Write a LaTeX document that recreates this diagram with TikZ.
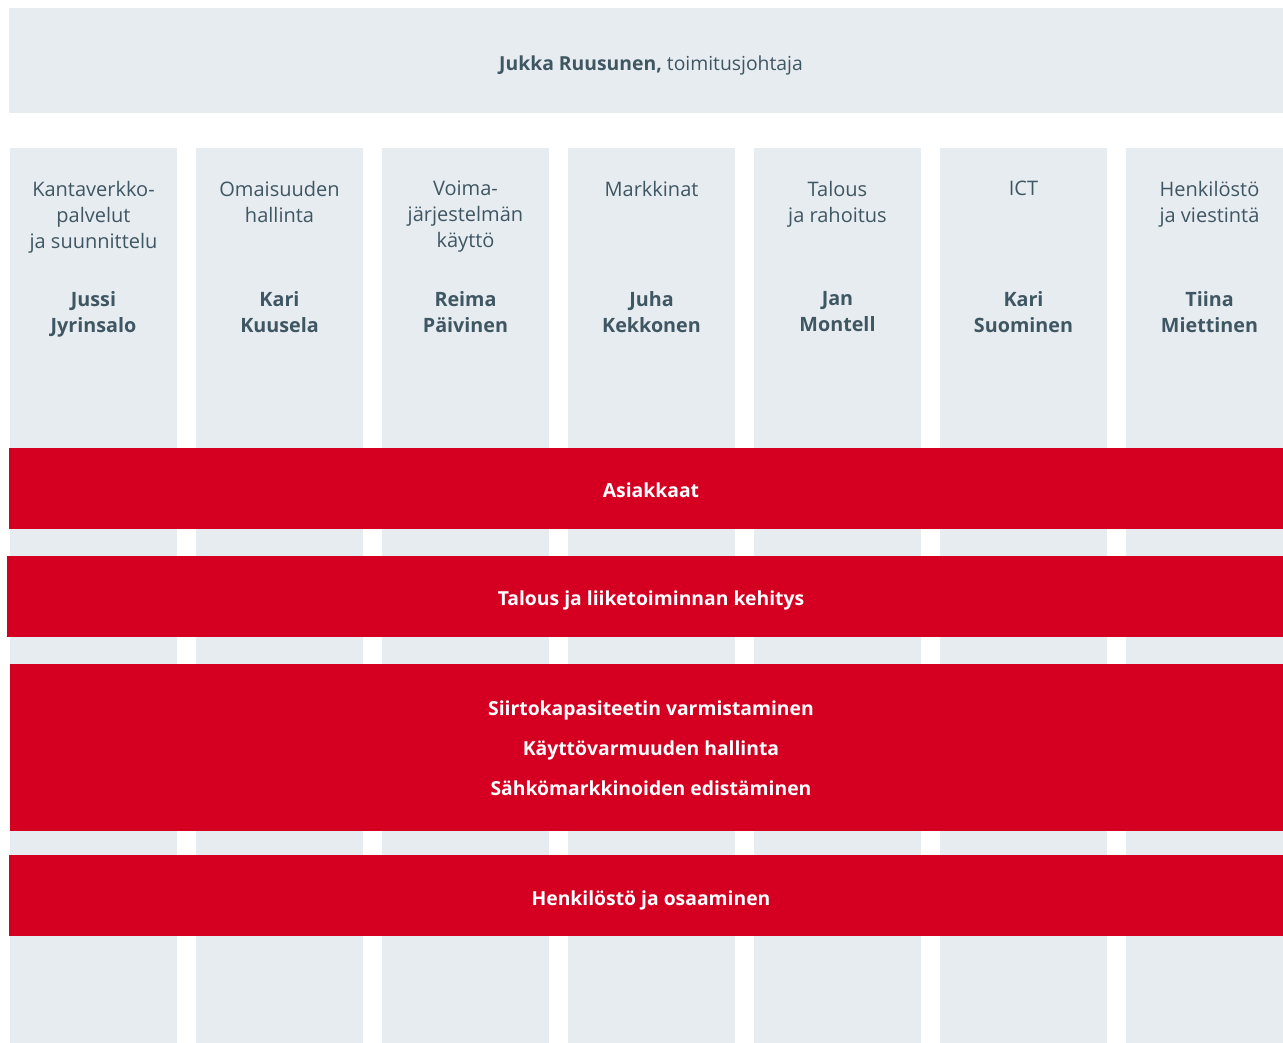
\documentclass[tikz,border=0pt]{standalone}
\usepackage{fontspec}
\setmainfont{Open Sans}
\definecolor{panel}{HTML}{E7ECF0}
\definecolor{fgred}{HTML}{D50021}
\definecolor{ink}{HTML}{3F5663}
\begin{document}
\begin{tikzpicture}[x=0.75pt, y=-0.75pt,
  title/.style={text=ink, align=center, inner sep=0pt, font=\fontsize{15}{19.5}\selectfont},
  who/.style={title, font=\fontsize{14.8}{19.5}\selectfont\bfseries},
  band/.style={text=white, align=center, text depth=0pt, font=\fontsize{14.5}{30}\selectfont\bfseries}]
\useasboundingbox (0,0) rectangle (1283,1043);
% Top bar
\fill[panel] (9,8) rectangle (1283,113);
\node[title, text depth=0pt, font=\fontsize{14.5}{19.5}\selectfont] (ceo) at (651,63) {\textbf{Jukka Ruusunen,} toimitusjohtaja};

% Columns
\foreach \i/\dept/\chief in {
  1/{Kantaverkko-\\palvelut\\ja suunnittelu}/{Jussi\\Jyrinsalo},
  2/{Omaisuuden\\hallinta}/{Kari\\Kuusela},
  3/{Voima-\\järjestelmän\\käyttö}/{Reima\\Päivinen},
  4/{Markkinat}/{Juha\\Kekkonen},
  5/{Talous\\ja rahoitus}/{Jan\\Montell},
  6/{ICT}/{Kari\\Suominen},
  7/{Henkilöstö\\ja viestintä}/{Tiina\\Miettinen}} {
  \fill[panel] ({10+186*(\i-1)},148) rectangle +(167,895);
  \node[title, anchor=north] (dept\i) at ({93.5+186*(\i-1)},181) {\dept};
  \node[who, anchor=north] (chief\i) at ({93.5+186*(\i-1)},291) {\chief};
}

% Red bands across the columns
\fill[fgred] (9,448) rectangle (1283,529);
\node[band] (band1) at (651,490) {Asiakkaat};
\fill[fgred] (7,556) rectangle (1283,637);
\node[band] (band2) at (651,598) {Talous ja liiketoiminnan kehitys};
\fill[fgred] (10,664) rectangle (1283,831);
\node[band] (band3) at (651,748) {Siirtokapasiteetin varmistaminen\\Käyttövarmuuden hallinta\\Sähkömarkkinoiden edistäminen};
\fill[fgred] (9,855) rectangle (1283,936);
\node[band] (band4) at (651,898) {Henkilöstö ja osaaminen};
\end{tikzpicture}
\end{document}
